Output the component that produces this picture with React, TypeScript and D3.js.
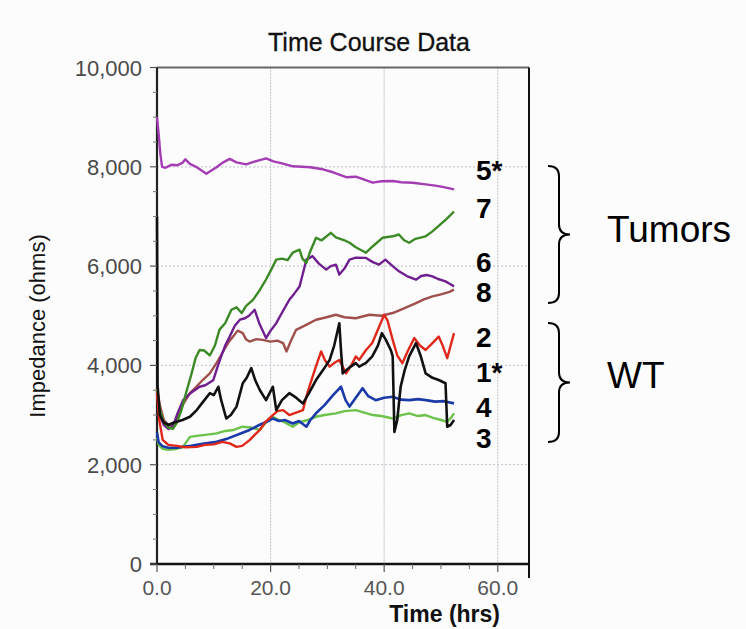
import * as d3 from "d3";

// [time (hrs), impedance (ohms)]
const series5 = [[0,9000],[0.3,8650],[0.6,8250],[0.9,8000],[1.5,7980],[2.5,8040],[3.5,8030],[4.5,8080],[5,8150],[5.8,8060],[7,7990],[8.7,7860],[9.5,7920],[10.5,7990],[11.5,8080],[12.8,8160],[14,8090],[15.7,8050],[17,8100],[19.2,8170],[20.5,8110],[22,8070],[23.9,8010],[25.5,8000],[27,7990],[29.2,7950],[31,7890],[33.3,7790],[35,7800],[36.5,7740],[38,7680],[39.5,7710],[41.5,7713],[43,7690],[45,7680],[47.3,7646],[49,7620],[50.5,7590],[52.3,7545]];
const series7 = [[0,3500],[0.5,3100],[1.2,2850],[2,2750],[2.8,2720],[3.5,2850],[4.3,3100],[5,3400],[6,3800],[6.8,4150],[7.5,4310],[8.3,4300],[9.3,4200],[10.2,4400],[11,4720],[12,4850],[13.1,5120],[14,5170],[14.9,5055],[15.7,5200],[16.9,5320],[18,5500],[19.2,5730],[20.2,5950],[21,6130],[22,6150],[23,6120],[23.9,6270],[25.1,6330],[25.6,6150],[26.3,6065],[27,6300],[28,6570],[29,6520],[30.6,6670],[31.5,6580],[33,6520],[33.9,6470],[35,6380],[36.8,6270],[38,6400],[39.7,6570],[41.5,6600],[42.6,6636],[43.5,6520],[44.4,6470],[45.5,6550],[47.3,6600],[48.5,6700],[50.2,6870],[51,6950],[52.3,7100]];
const series6 = [[0,3400],[0.5,3000],[1.2,2800],[2,2720],[2.8,2760],[3.5,3000],[4.6,3300],[6,3450],[7.5,3570],[8.5,3600],[9.9,3700],[10.6,3950],[11.3,4180],[12,4400],[12.8,4580],[13.7,4800],[14.6,4920],[15.5,4950],[16.2,5000],[17.2,5120],[18,4850],[19.2,4550],[20,4700],[21,4850],[22.2,5100],[23.3,5320],[24.2,5450],[25.1,5590],[25.8,5900],[26.3,6130],[27.4,6200],[28.5,6050],[29.8,5930],[30.6,6000],[31.5,6030],[32.1,5830],[33,5950],[33.9,6130],[35,6170],[36.8,6165],[38,6080],[39.1,6030],[40.2,6130],[41.5,6000],[42.6,5895],[44,5800],[45.6,5727],[46.5,5800],[47.5,5820],[48.5,5794],[49.5,5740],[50.8,5693],[51.6,5640],[52.3,5592]];
const series8 = [[0,3550],[0.5,3200],[1.2,2900],[2,2800],[2.8,2780],[3.5,2900],[4.5,3200],[5.8,3440],[7,3580],[8,3700],[9.3,3840],[10.5,4050],[11.5,4250],[12.5,4450],[13.4,4580],[14.2,4700],[15.1,4650],[15.7,4520],[16.3,4480],[17.5,4530],[18.6,4515],[20,4480],[21.2,4500],[22.2,4450],[22.8,4280],[23.6,4500],[24.5,4717],[26,4800],[28,4920],[29.5,4960],[31.5,5020],[33,4970],[35,4950],[37.4,5020],[39.5,5000],[41.5,5055],[43.5,5150],[45.6,5255],[47,5330],[48.5,5390],[50,5430],[51.5,5480],[52.3,5525]];
const series2 = [[0,3450],[0.4,2900],[1,2500],[2,2400],[3.5,2380],[5,2350],[7,2360],[8.5,2400],[10,2410],[11.5,2460],[12.8,2430],[14,2360],[15,2380],[16.3,2495],[17.2,2600],[18.1,2700],[19,2850],[20.4,3000],[21.2,3080],[22.2,3100],[23.3,3000],[24.5,3050],[25.7,3100],[26.3,3370],[26.9,3600],[27.4,3775],[28.2,4050],[28.9,4280],[29.6,4100],[30.4,3975],[31.2,4050],[32.1,4110],[33.3,3840],[34.2,4000],[35,4180],[35.6,4110],[36.8,4310],[37.9,4450],[39,4750],[40,5020],[40.6,4900],[41.5,4515],[42.3,4200],[43.2,4045],[44.2,4300],[45.3,4550],[46.3,4400],[47.3,4310],[48.5,4450],[49.6,4580],[50.3,4400],[51.1,4145],[51.7,4400],[52.3,4650]];
const series1 = [[0,7000],[0.1,3600],[0.5,3000],[1.2,2850],[2,2800],[3,2850],[4.5,2900],[5.8,2965],[7,3100],[8,3250],[9.3,3440],[10,3400],[10.8,3570],[11.3,3300],[12.2,2930],[13,3000],[14,3170],[15.1,3640],[15.8,3750],[16.6,3945],[17.3,3700],[18.1,3505],[19.2,3300],[20.4,3570],[21,3100],[22,3300],[23.3,3440],[24.5,3350],[25.7,3235],[26.8,3450],[28,3705],[29.2,3900],[30.4,4110],[31.2,4400],[32.1,4850],[32.4,4300],[32.7,3840],[33.8,3950],[35,4045],[35.6,3975],[36.8,4050],[37.9,4180],[38.9,4400],[39.6,4650],[40.3,4515],[41.2,4300],[41.5,4180],[41.8,2660],[42.3,2900],[42.9,3570],[43.6,3900],[44.4,4180],[45.6,4450],[46.4,4200],[47.3,3840],[48.5,3750],[49.6,3705],[50.8,3640],[51.1,2765],[51.7,2800],[52.3,2900]];
const series4 = [[0,2650],[0.3,2450],[1,2370],[2,2340],[3.5,2340],[4.6,2360],[6,2380],[8,2420],[10.5,2460],[12.5,2530],[14.5,2620],[16.3,2700],[18,2800],[19,2850],[20.4,2930],[21.5,2880],[22.5,2900],[23.9,2830],[25,2880],[26.3,2765],[27,2900],[28,3035],[29.5,3200],[31,3400],[32.4,3570],[33.2,3300],[33.9,3170],[35,3350],[36.2,3540],[37.2,3380],[38.5,3300],[40,3350],[41.5,3370],[43,3310],[44.4,3300],[46,3320],[47.3,3300],[49,3270],[50.5,3280],[52.3,3235]];
const series3 = [[0,2550],[0.3,2400],[1,2320],[2,2300],[3,2310],[4.5,2350],[5.8,2560],[7,2580],[8.5,2600],[10.5,2630],[12,2680],[13.5,2700],[15.1,2765],[16.5,2750],[18.1,2700],[19.2,2850],[20.4,2965],[21.5,2900],[22.5,2850],[23.9,2765],[25,2850],[26.5,2900],[28,2965],[29.5,3000],[31.5,3035],[33,3080],[35,3100],[36.5,3050],[38,3000],[39.5,2980],[41.5,2930],[43,3000],[44.4,3035],[46,2980],[47.3,3000],[48.5,2950],[50,2900],[51.1,2865],[51.8,2950],[52.3,3035]];

const lines = [
  { name: "3", data: series3, color: "#6cc24a", w: 2.4 },
  { name: "4", data: series4, color: "#1a3aa8", w: 2.6 },
  { name: "8", data: series8, color: "#a0504c", w: 2.4 },
  { name: "6", data: series6, color: "#6f1f8f", w: 2.4 },
  { name: "7", data: series7, color: "#3b8a25", w: 2.4 },
  { name: "2", data: series2, color: "#e0281a", w: 2.4 },
  { name: "1*", data: series1, color: "#111111", w: 2.6 },
  { name: "5*", data: series5, color: "#a43cb4", w: 2.4 },
];

// labels at the right, top to bottom
const labelNames = ["5*", "7", "6", "8", "2", "1*", "4", "3"];
const labelY = [180, 218, 272, 302, 347, 382, 417, 448];

const xTicks = [0, 20, 40, 60];
const yTicks = [0, 2000, 4000, 6000, 8000, 10000];

const font = "'Liberation Sans', Arial, sans-serif";

export default function App() {
  const width = 746;
  const height = 629;
  const left = 157, right = 529, top = 67.5, bottom = 564;

  const x = d3.scaleLinear().domain([0, 65.5]).range([left, right]);
  const y = d3.scaleLinear().domain([0, 10000]).range([bottom, top]);
  const line = d3.line<number[]>().x((d) => x(d[0])).y((d) => y(d[1]));

  const minorX = d3.range(0, 65, 5).filter((v) => v % 20 !== 0);
  const minorY = d3.range(500, 10000, 500).filter((v) => v % 2000 !== 0);

  const bracket = (y0: number, y1: number) => {
    const xe = 548, xm = 559, xt = 570, ym = (y0 + y1) / 2;
    return `M${xe},${y0} Q${xm},${y0} ${xm},${y0 + 10} L${xm},${ym - 10} Q${xm},${ym} ${xt},${ym} Q${xm},${ym} ${xm},${ym + 10} L${xm},${y1 - 10} Q${xm},${y1} ${xe},${y1}`;
  };

  return (
    <div style={{ position: "absolute", left: 0, top: 0 }}>
      <svg width={width} height={height} style={{ display: "block", background: "#fcfcfc" }}>
        <text x={369} y={51} textAnchor="middle" fontFamily={font} fontSize={25} fill="#111" stroke="#111" strokeWidth={0.3}>
          Time Course Data
        </text>

        {/* grid */}
        {xTicks.filter((t) => t > 0).map((t) => (
          <line key={"gx" + t} x1={x(t)} x2={x(t)} y1={top} y2={bottom} stroke="#c9ccd6" strokeWidth={1.2} strokeDasharray="2,1" />
        ))}
        {yTicks.filter((t) => t > 0 && t < 10000).map((t) => (
          <line key={"gy" + t} x1={left} x2={right} y1={y(t)} y2={y(t)} stroke="#c9ccd6" strokeWidth={1.2} strokeDasharray="2,2" />
        ))}

        {/* frame and axes */}
        <line x1={left} x2={right} y1={top} y2={top} stroke="#666" strokeWidth={2} />
        <line x1={right} x2={right} y1={top} y2={578} stroke="#111" strokeWidth={2} />
        <line x1={left} x2={left} y1={top} y2={bottom + 1} stroke="#222" strokeWidth={2.2} />
        <line x1={150} x2={right} y1={bottom} y2={bottom} stroke="#111" strokeWidth={2.5} />

        {/* series */}
        {lines.map((s) => (
          <path key={s.name} d={line(s.data) || ""} fill="none" stroke={s.color} strokeWidth={s.w} strokeLinejoin="round" />
        ))}

        {xTicks.map((t) => (
          <g key={"xt" + t}>
            <line x1={x(t)} x2={x(t)} y1={bottom} y2={bottom + 8} stroke="#555" strokeWidth={1.2} />
            <text x={x(t)} y={595} textAnchor="middle" fontFamily={font} fontSize={21} fill="#555">
              {d3.format(".1f")(t)}
            </text>
          </g>
        ))}
        {minorX.map((t) => (
          <line key={"mx" + t} x1={x(t)} x2={x(t)} y1={bottom} y2={bottom + 5} stroke="#666" strokeWidth={1} />
        ))}
        {yTicks.map((t) => (
          <g key={"yt" + t}>
            <line x1={150} x2={left} y1={y(t)} y2={y(t)} stroke="#555" strokeWidth={1.2} />
            <text x={142} y={y(t) + 8} textAnchor="end" fontFamily={font} fontSize={22} fill="#4a4a4a">
              {d3.format(",")(t)}
            </text>
          </g>
        ))}
        {minorY.map((t) => (
          <line key={"my" + t} x1={153} x2={left} y1={y(t)} y2={y(t)} stroke="#777" strokeWidth={1} />
        ))}

        <text transform="translate(45,326) rotate(-90)" textAnchor="middle" fontFamily={font} fontSize={22} fill="#111">
          Impedance (ohms)
        </text>
        <text x={500} y={622} textAnchor="end" fontFamily={font} fontSize={23} fontWeight="bold" fill="#111">
          Time (hrs)
        </text>

        {/* series labels */}
        {labelNames.map((n, i) => (
          <text key={"lb" + n} x={476} y={labelY[i]} fontFamily={font} fontSize={28} fontWeight="bold" fill="#000">
            {n}
          </text>
        ))}

        {/* group brackets */}
        <path d={bracket(166, 303)} fill="none" stroke="#000" strokeWidth={2} />
        <path d={bracket(323, 442)} fill="none" stroke="#000" strokeWidth={2} />
        <text x={607} y={242} fontFamily={font} fontSize={37} fill="#000">Tumors</text>
        <text x={607} y={388} fontFamily={font} fontSize={37} fill="#000">WT</text>
      </svg>
    </div>
  );
}
